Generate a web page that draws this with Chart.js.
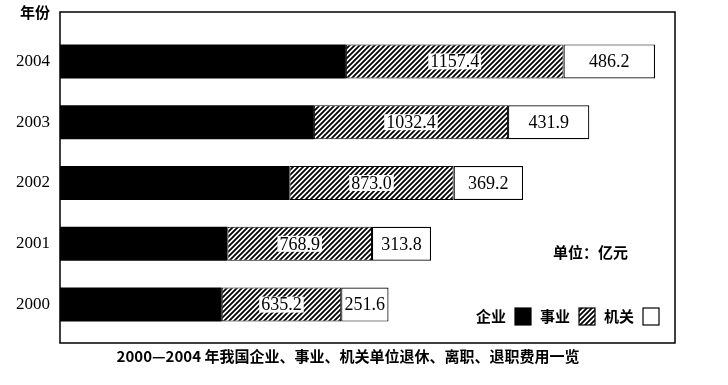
<!DOCTYPE html>
<html>
<head>
<meta charset="utf-8">
<script src="https://cdn.jsdelivr.net/npm/chart.js@4"></script>
<style>
  html, body { margin: 0; padding: 0; background: #fff; }
  #wrap { width: 728px; height: 385px; }
</style>
</head>
<body>
<div id="wrap"><canvas id="my" width="728" height="385"></canvas></div>
<script>
// data (亿元)
const years = ['2004', '2003', '2002', '2001', '2000'];
const qiye = [1520, 1350, 1220, 890, 860];          // 企业 (no labels, estimated)
const shiye = [1157.4, 1032.4, 873.0, 768.9, 635.2]; // 事业
const jiguan = [486.2, 431.9, 369.2, 313.8, 251.6];  // 机关
const seriesNames = ['企业', '事业', '机关'];

const cjk = '"Noto Sans CJK SC", "Noto Sans", sans-serif';
const serif = '"Liberation Serif", "DejaVu Serif", serif';

// diagonal hatch
function makeHatch() {
  const c = document.createElement('canvas');
  c.width = 5; c.height = 5;
  const g = c.getContext('2d');
  g.fillStyle = '#fff';
  g.fillRect(0, 0, 5, 5);
  g.strokeStyle = '#000';
  g.lineWidth = 1.8;
  g.beginPath();
  for (let o = -5; o <= 5; o += 5) {
    g.moveTo(o - 1, 6);
    g.lineTo(o + 6, -1);
  }
  g.stroke();
  return g.createPattern(c, 'repeat');
}

const ctx = document.getElementById('my');
const hatch = makeHatch();
const fills = ['#000', hatch, '#fff'];

const decorations = {
  id: 'decorations',
  afterDatasetsDraw(chart) {
    const c = chart.ctx;
    const ca = chart.chartArea;
    c.save();

    // value labels on 事业 and 机关 segments
    c.font = '18px ' + serif;
    c.textAlign = 'center';
    c.textBaseline = 'middle';
    [1, 2].forEach(function(di) {
      const meta = chart.getDatasetMeta(di);
      const vals = chart.data.datasets[di].data;
      meta.data.forEach(function(el, i) {
        const txt = vals[i].toFixed(1);
        const cx = (el.x + el.base) / 2;
        if (di === 1) {
          const w = c.measureText(txt).width + 4;
          c.fillStyle = '#fff';
          c.fillRect(cx - w / 2, el.y - 8, w, 16);
        }
        c.fillStyle = '#000';
        c.fillText(txt, cx, el.y + 1);
      });
    });

    // frame
    c.strokeStyle = '#000';
    c.lineWidth = 1.5;
    c.strokeRect(ca.left, ca.top - 19, ca.right - ca.left, ca.bottom - ca.top + 27);

    // 年份
    c.font = 'bold 15px ' + cjk;
    c.textAlign = 'right';
    c.fillText('年份', ca.left - 10, ca.top - 19);

    // 单位
    c.textAlign = 'left';
    c.fillText('单位：亿元', ca.right - 122, 252);

    // legend: text then box
    let x = 476;
    const ly = 316;
    seriesNames.forEach(function(name, i) {
      c.fillStyle = '#000';
      c.fillText(name, x, ly);
      x += c.measureText(name).width + 9;
      c.fillStyle = fills[i];
      c.fillRect(x, ly - 8, 16, 17);
      c.lineWidth = 1.2;
      c.strokeRect(x, ly - 8, 16, 17);
      x += 16 + 9;
    });

    // caption
    c.fillStyle = '#000';
    c.textAlign = 'center';
    c.font = 'bold 15px ' + cjk;
    c.fillText('2000—2004 年我国企业、事业、机关单位退休、离职、退职费用一览', 348, 356);
    c.restore();
  }
};

new Chart(ctx, {
  type: 'bar',
  data: {
    labels: years,
    datasets: [
      { label: seriesNames[0], data: qiye, backgroundColor: fills[0], borderColor: '#000', borderWidth: 0 },
      { label: seriesNames[1], data: shiye, backgroundColor: fills[1], borderColor: '#000', borderWidth: 1, borderSkipped: false },
      { label: seriesNames[2], data: jiguan, backgroundColor: fills[2], borderColor: '#000', borderWidth: 1.2, borderSkipped: false }
    ]
  },
  options: {
    indexAxis: 'y',
    responsive: false,
    animation: false,
    layout: { padding: { left: 0, top: 31, right: 53, bottom: 50 } },
    datasets: { bar: { barPercentage: 0.56, categoryPercentage: 1 } },
    scales: {
      x: { stacked: true, min: 0, max: 3270, display: false },
      y: {
        stacked: true,
        grid: { display: false, drawTicks: false },
        border: { display: false },
        ticks: { color: '#000', padding: 10, font: { family: serif, size: 17 } },
        afterFit: function(scale) { scale.width = 60; }
      }
    },
    plugins: {
      legend: { display: false },
      tooltip: { enabled: false }
    }
  },
  plugins: [decorations]
});
</script>
</body>
</html>
